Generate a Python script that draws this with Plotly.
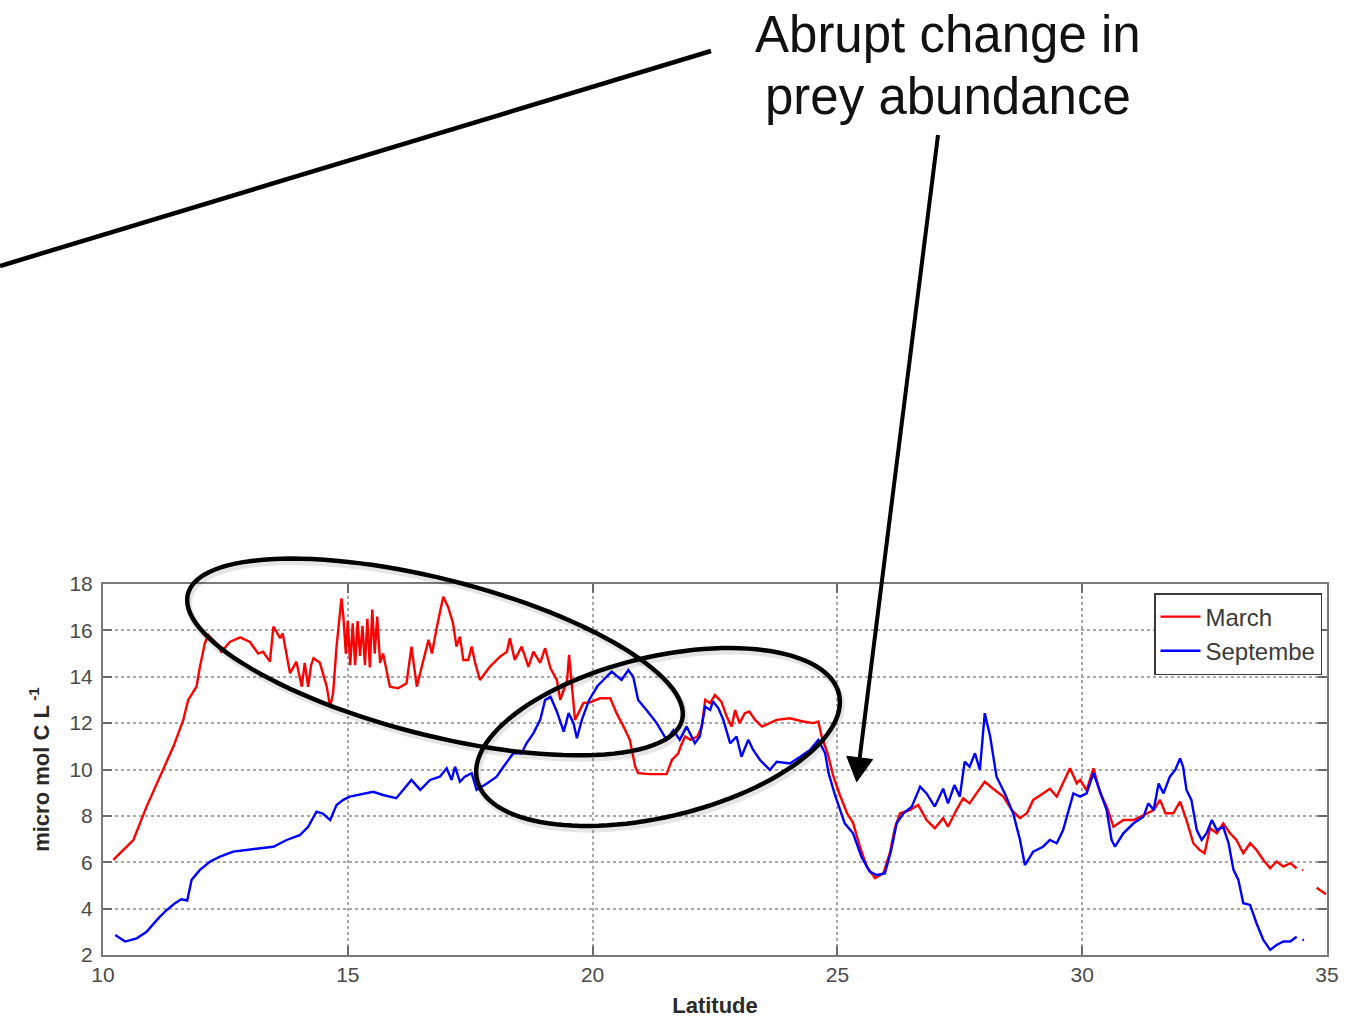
import numpy as np
import plotly.graph_objects as go

# ---------------- data ----------------
march_lat = [10.21, 10.62, 10.89, 11.16, 11.44, 11.64, 11.74, 11.91, 11.98, 12.08, 12.15, 12.29, 12.42,
             12.59, 12.8, 13.0, 13.17, 13.27, 13.41, 13.48, 13.62, 13.67, 13.82, 13.95, 14.06, 14.12,
             14.19, 14.25, 14.3, 14.43, 14.57, 14.64, 14.7, 14.77, 14.87, 14.91, 14.96, 15.0, 15.05,
             15.1, 15.15, 15.2, 15.25, 15.3, 15.35, 15.4, 15.45, 15.5, 15.55, 15.6, 15.66, 15.72,
             15.79, 15.86, 16.03, 16.2, 16.3, 16.41, 16.51, 16.65, 16.72, 16.82, 16.95, 17.05, 17.15,
             17.22, 17.29, 17.36, 17.46, 17.53, 17.6, 17.7, 17.9, 18.11, 18.25, 18.31, 18.41, 18.55,
             18.69, 18.79, 18.93, 19.03, 19.14, 19.27, 19.34, 19.41, 19.48, 19.52, 19.57, 19.64,
             19.71, 19.81, 19.95, 20.15, 20.36, 20.49, 20.63, 20.76, 20.87, 20.93, 21.17, 21.51,
             21.62, 21.75, 21.8, 21.89, 22.0, 22.14, 22.23, 22.3, 22.4, 22.5, 22.63, 22.74, 22.84,
             22.91, 23.0, 23.11, 23.2, 23.32, 23.46, 23.62, 23.76, 24.03, 24.3, 24.51, 24.61, 24.68,
             24.8, 24.92, 25.05, 25.2, 25.32, 25.46, 25.6, 25.77, 25.94, 26.07, 26.18, 26.28, 26.48,
             26.65, 26.82, 26.99, 27.16, 27.26, 27.43, 27.57, 27.7, 27.84, 28.01, 28.18, 28.39,
             28.56, 28.73, 28.87, 29.0, 29.2, 29.34, 29.48, 29.61, 29.75, 29.89, 29.96, 30.09,
             30.23, 30.37, 30.5, 30.64, 30.84, 31.05, 31.25, 31.46, 31.59, 31.7, 31.86, 32.0, 32.13,
             32.27, 32.4, 32.5, 32.61, 32.75, 32.88, 33.02, 33.15, 33.29, 33.43, 33.56, 33.7, 33.84,
             33.97, 34.11, 34.25, 34.38, 34.44, 34.49, 34.51, 34.6, 34.79, 34.98]
march_val = [6.1, 6.96, 8.4, 9.69, 11.0, 12.14, 13.0, 13.57, 14.43, 15.44, 15.8, 15.5, 15.08,
             15.5, 15.7, 15.5, 15.0, 15.08, 14.65, 16.16, 15.66, 15.87, 14.15, 14.65, 13.57, 14.6,
             13.57, 14.5, 14.8, 14.6, 13.57, 12.7, 13.29, 15.3, 17.38, 16.59, 15.0, 16.4, 14.5,
             16.3, 14.5, 16.4, 14.9, 16.2, 14.5, 16.5, 14.4, 16.9, 15.0, 16.6, 14.6, 15.0,
             14.29, 13.57, 13.5, 13.72, 15.3, 13.57, 14.43, 15.59, 15.0, 16.16, 17.45, 17.0, 16.3,
             15.3, 15.73, 14.72, 14.72, 15.3, 14.6, 13.86, 14.43, 14.87, 15.08, 15.66, 14.72, 15.3,
             14.43, 15.08, 14.6, 15.23, 14.36, 13.86, 13.0, 13.43, 13.86, 14.94, 13.86, 12.14,
             12.43, 12.86, 12.9, 13.07, 13.07, 12.43, 11.86, 11.28, 10.12, 9.84, 9.8, 9.8,
             10.41, 10.7, 11.0, 11.42, 11.28, 11.42, 11.85, 13.0, 12.86, 13.21, 12.93, 12.28, 11.85,
             12.57, 12.0, 12.43, 12.5, 12.14, 11.85, 12.0, 12.14, 12.21, 12.07, 12.0, 12.07, 11.42,
             10.7, 9.69, 8.9, 8.1, 7.7, 6.67, 5.81, 5.31, 5.53, 6.39, 7.53, 8.11, 8.25,
             8.47, 7.82, 7.47, 7.9, 7.53, 8.25, 8.76, 8.54, 8.97, 9.47, 9.17, 8.83,
             8.25, 7.9, 8.11, 8.69, 8.97, 9.17, 8.83, 9.4, 10.05, 9.4, 9.55, 9.1,
             10.05, 8.97, 8.4, 7.53, 7.82, 7.82, 8.04, 8.25, 8.69, 8.11, 8.11, 8.61, 7.82,
             6.82, 6.53, 6.39, 7.47, 7.25, 7.68, 7.25, 6.96, 6.39, 6.82, 6.53, 6.1, 5.74,
             6.03, 5.81, 5.96, 5.74, None, 5.67, 5.66, None, 4.9, 4.62]

sept_lat = [10.25, 10.45, 10.69, 10.89, 11.13, 11.3, 11.47, 11.6, 11.72, 11.81, 11.98, 12.19, 12.39,
            12.66, 12.93, 13.21, 13.48, 13.75, 14.02, 14.19, 14.36, 14.49, 14.64, 14.77, 14.91,
            15.04, 15.32, 15.52, 15.72, 15.99, 16.13, 16.3, 16.48, 16.68, 16.88, 17.02, 17.12,
            17.19, 17.29, 17.39, 17.53, 17.63, 17.84, 18.04, 18.18, 18.28, 18.38, 18.55, 18.65,
            18.79, 18.93, 19.03, 19.14, 19.27, 19.41, 19.51, 19.61, 19.68, 19.78, 19.93, 20.1,
            20.22, 20.39, 20.59, 20.73, 20.83, 20.93, 21.1, 21.31, 21.51, 21.65, 21.78, 21.92,
            22.09, 22.19, 22.3, 22.4, 22.46, 22.57, 22.67, 22.81, 22.94, 23.04, 23.18, 23.28,
            23.42, 23.62, 23.76, 24.03, 24.24, 24.44, 24.61, 24.75, 24.82, 24.95, 25.15, 25.32,
            25.49, 25.66, 25.8, 25.97, 26.1, 26.21, 26.35, 26.52, 26.69, 26.82, 26.99, 27.16,
            27.26, 27.39, 27.5, 27.6, 27.7, 27.81, 27.91, 28.01, 28.12, 28.25, 28.42, 28.59,
            28.73, 28.83, 29.0, 29.2, 29.34, 29.48, 29.61, 29.72, 29.82, 29.96, 30.09, 30.23,
            30.37, 30.5, 30.6, 30.67, 30.84, 31.05, 31.25, 31.35, 31.46, 31.56, 31.66, 31.79,
            31.9, 32.0, 32.06, 32.13, 32.23, 32.34, 32.44, 32.54, 32.65, 32.75, 32.88, 32.99,
            33.09, 33.19, 33.29, 33.43, 33.56, 33.7, 33.84, 33.97, 34.11, 34.25, 34.38, 34.45,
            34.5, 34.53]
sept_val = [2.86, 2.58, 2.72, 3.0, 3.58, 3.94, 4.23, 4.4, 4.35, 5.24, 5.67, 6.03, 6.24,
            6.46, 6.53, 6.6, 6.67, 6.96, 7.17, 7.53, 8.18, 8.1, 7.82, 8.47, 8.69,
            8.83, 8.97, 9.04, 8.9, 8.76, 9.12, 9.55, 9.12, 9.55, 9.69, 10.05, 9.55,
            10.12, 9.47, 9.69, 9.84, 9.12, 9.4, 9.69, 10.12, 10.41, 10.7, 10.7, 11.13,
            11.56, 12.14, 13.0, 13.14, 12.5, 11.63, 12.43, 12.0, 11.35, 12.14, 13.0, 13.6,
            13.86, 14.22, 13.86, 14.29, 14.0, 13.0, 12.57, 12.0, 11.28, 11.7, 11.28, 11.85,
            11.13, 11.42, 12.71, 12.57, 12.93, 12.64, 12.14, 11.13, 11.42, 10.55, 11.28, 10.84,
            10.41, 9.98, 10.33, 10.26, 10.55, 10.84, 11.28, 10.7, 9.84, 8.9, 7.68, 7.25,
            6.24, 5.6, 5.45, 5.52, 6.53, 7.68, 8.11, 8.4, 9.26, 8.97, 8.4, 9.17,
            8.54, 9.33, 8.83, 10.34, 10.12, 10.7, 9.98, 12.43, 11.42, 9.69, 8.97, 8.11,
            6.96, 5.88, 6.46, 6.67, 6.96, 6.82, 7.39, 8.25, 8.97, 8.83, 8.97, 9.84,
            8.97, 8.25, 6.96, 6.67, 7.25, 7.68, 7.96, 8.54, 8.25, 9.4, 8.97, 9.69,
            9.98, 10.48, 10.12, 9.12, 8.69, 7.39, 6.96, 7.25, 7.82, 7.39, 7.53, 6.82,
            5.67, 5.24, 4.23, 4.16, 3.37, 2.65, 2.22, 2.43, 2.58, 2.58, 2.79, None,
            2.66, 2.64]

x_ticks = [10, 15, 20, 25, 30, 35]
y_ticks = [2, 4, 6, 8, 10, 12, 14, 16, 18]
series_names = ["March", "Septembe"]
note_lines = ["Abrupt change in", "prey abundance"]

# ---------------- layout geometry ----------------
W, H = 1356, 1025
L, R, T, B = 103, 29, 584, 70
PW, PH = W - L - R, H - T - B


def px(X):
    return (X - L) / PW


def py(Y):
    return (H - B - Y) / PH


def ellipse_path(cx, cy, a, b, deg, n=120):
    t = np.linspace(0, 2 * np.pi, n)
    th = np.radians(deg)
    xs = cx + a * np.cos(t) * np.cos(th) - b * np.sin(t) * np.sin(th)
    ys = cy + a * np.cos(t) * np.sin(th) + b * np.sin(t) * np.cos(th)
    pts = [f"{px(x):.5f},{py(y):.5f}" for x, y in zip(xs, ys)]
    return "M" + " L".join(pts) + " Z"


FONT = "Liberation Sans, Arial, sans-serif"

fig = go.Figure()
fig.add_trace(go.Scatter(x=march_lat, y=march_val, mode="lines", name=series_names[0],
                         line=dict(color="#ff0000", width=2.4), connectgaps=False))
fig.add_trace(go.Scatter(x=sept_lat, y=sept_val, mode="lines", name=series_names[1],
                         line=dict(color="#0000ff", width=2.4), connectgaps=False))

shapes = []
# ellipses with soft shadow
for (cx, cy, a, b, deg) in [(435, 657, 255, 78, 14.3), (658, 737, 186, 80, -13.4)]:
    shapes.append(dict(type="path", xref="paper", yref="paper",
                       path=ellipse_path(cx + 1.5, cy + 3, a, b, deg),
                       line=dict(color="rgba(0,0,0,0.10)", width=7), layer="above"))
    shapes.append(dict(type="path", xref="paper", yref="paper",
                       path=ellipse_path(cx, cy, a, b, deg),
                       line=dict(color="black", width=4.5), layer="above"))

# long straight line at top left
shapes.append(dict(type="line", xref="paper", yref="paper",
                   x0=px(0), y0=py(266), x1=px(711), y1=py(51),
                   line=dict(color="black", width=4.5), layer="above"))

# arrow from text to the dip
tail = np.array([938.0, 135.0])
tip = np.array([856.7, 781.7])
u = (tip - tail) / np.linalg.norm(tip - tail)
nrm = np.array([u[1], -u[0]])
base = tip - 24 * u
p1 = base + 13 * nrm
p2 = base - 13 * nrm
shapes.append(dict(type="line", xref="paper", yref="paper",
                   x0=px(tail[0]), y0=py(tail[1]), x1=px(base[0]), y1=py(base[1]),
                   line=dict(color="black", width=4), layer="above"))
shapes.append(dict(type="path", xref="paper", yref="paper",
                   path=f"M{px(tip[0])},{py(tip[1])} L{px(p1[0])},{py(p1[1])} L{px(p2[0])},{py(p2[1])} Z",
                   fillcolor="black", line=dict(color="black", width=1), layer="above"))

annotations = []
for txt, yc in zip(note_lines, [34, 97]):
    annotations.append(dict(text=txt, xref="paper", yref="paper", x=px(948), y=py(yc),
                            xanchor="center", yanchor="middle", showarrow=False,
                            font=dict(family="Helvetica Neue, " + FONT, size=51,
                                      color="#111111", weight=300)))

axis_common = dict(showline=True, linecolor="#7a7a7a", linewidth=2, mirror="ticks",
                   ticks="inside", ticklen=9, tickwidth=2, tickcolor="#6a6a6a",
                   showgrid=True, gridcolor="#a8a8a8", griddash="dot", gridwidth=1.5,
                   zeroline=False, automargin=False,
                   tickfont=dict(family=FONT, size=21, color="#4a4a4a"))

fig.update_layout(
    width=W, height=H,
    margin=dict(l=L, r=R, t=T, b=B),
    paper_bgcolor="white", plot_bgcolor="white",
    showlegend=True,
    legend=dict(x=px(1322), y=py(593), xanchor="right", yanchor="top",
                bgcolor="white", bordercolor="#3a3a3a", borderwidth=1.5,
                font=dict(family=FONT, size=24, color="#3a3a3a"),
                itemwidth=40, tracegroupgap=0),
    xaxis=dict(range=[10, 35], tickvals=x_ticks, ticktext=[str(v) for v in x_ticks],
               title=dict(text="Latitude", standoff=12,
                          font=dict(family=FONT, size=22, color="#2a2a2a", weight="bold")),
               **axis_common),
    yaxis=dict(range=[2, 18], tickvals=y_ticks, ticktext=[str(v) for v in y_ticks],
               ticklabelstandoff=4,
               title=dict(text="micro mol C L<sup> -1</sup>", standoff=14,
                          font=dict(family=FONT, size=22, color="#2a2a2a", weight="bold")),
               **axis_common),
    shapes=shapes,
    annotations=annotations,
)

fig.write_html("out.html", config={"displayModeBar": False},
               post_script="document.body.style.margin='0px';")
